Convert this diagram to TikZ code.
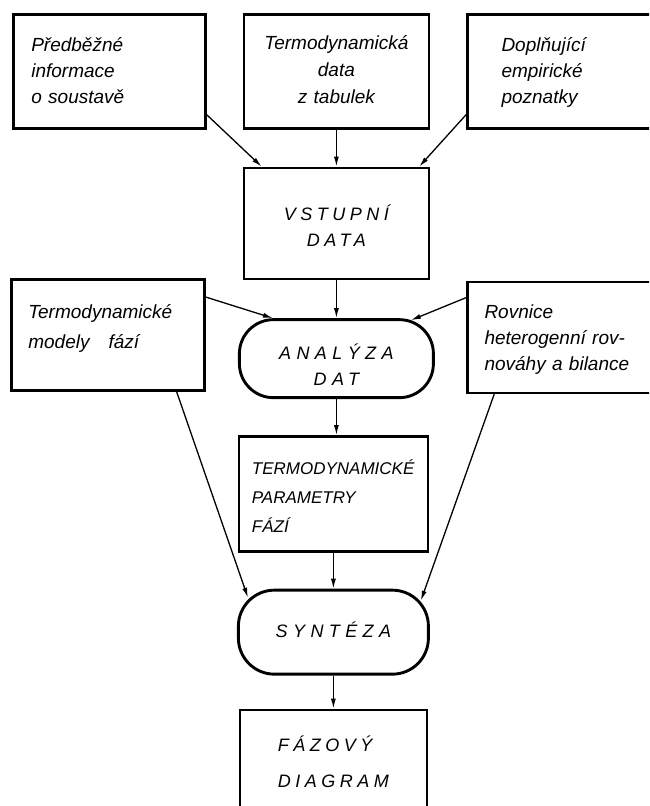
\documentclass[tikz,border=0pt]{standalone}
\usepackage{fontspec}
\setmainfont{Liberation Sans}
\newfontfamily\capsfont[LetterSpace=25]{Liberation Sans}
\newfontfamily\widecaps[LetterSpace=30]{Liberation Sans}
\usetikzlibrary{positioning, calc, arrows.meta}

\begin{document}
\begin{tikzpicture}[x=1pt, y=-1pt,
  box/.style 2 args={draw, line width=2.6pt, anchor=north west, inner ysep=0pt, text height=#1, text depth=#2, font=\itshape\fontsize{19}{26}\selectfont},
  caps/.style={font=\capsfont\itshape\fontsize{18}{26}\selectfont},
  oval/.style 2 args={box={#1}{#2}, rounded corners=34pt, line width=2.9pt, align=center, text width=184pt, inner xsep=5pt, font=\widecaps\itshape\fontsize{18}{26}\selectfont},
  flow/.style={-{Latex[length=10pt,width=5pt]}, line width=1.3pt}]

\path[use as bounding box, clip] (0,0) rectangle (649,806);

% BOXES

\node[box={37pt}{77pt}, text width=156pt, inner xsep=18pt, align=left] (pre) at (12,13)
{Předběžné\\informace\\o soustavě};

\node[box={35pt}{79pt}, text width=175pt, inner xsep=5pt, align=center, right=36pt of pre.north east, anchor=north west] (tab)
{Termodynamická\\[1pt]data\\[1pt]z tabulek};

\node[box={37pt}{77pt}, text width=142pt, inner xsep=34pt, align=left, right=36pt of tab.north east, anchor=north west] (emp)
{Doplňující\\empirické\\poznatky};

\node[box={53pt}{58pt}, caps, text width=175pt, inner xsep=5pt, align=center, below=37pt of tab.south west, anchor=north west] (vst)
{VSTUPNÍ\\DATA};

\node[box={39pt}{72pt}, text width=159pt, inner xsep=17pt, align=left] (mod) at (10,278)
{Termodynamické\\[4pt]modely\quad fází};

\node[box={37pt}{74pt}, text width=176pt, inner xsep=17pt, align=left, below=151pt of emp.south west, anchor=north west] (rov)
{Rovnice\\heterogenní rov-\\nováhy a bilance};

\node[oval={40pt}{38pt}, below=38pt of vst.south, anchor=north] (ana)
{ANALÝZA\\DAT};

\node[box={38pt}{77pt}, text width=163pt, inner xsep=13pt, align=left, font=\itshape\fontsize{17}{26}\selectfont, below=36pt of ana.south, anchor=north, xshift=-3pt] (par)
{TERMODYNAMICKÉ\\[3pt]PARAMETRY\\[3pt]FÁZÍ};

\node[oval={47pt}{37pt}, text width=180pt, rounded corners=36pt, below=36pt of par.south, anchor=north] (syn)
{SYNTÉZA};

\node[box={42pt}{103pt}, caps, text width=111pt, inner xsep=38pt, align=left, below=33pt of syn.south, anchor=north] (faz)
{FÁZOVÝ\\[10pt]DIAGRAM};

% ARROWS

\draw[flow] ($(pre.south east)+(0,-15)$) -- ($(vst.north west)+(19,0)$);
\draw[flow] (tab.south) -- (vst.north);
\draw[flow] ($(emp.south west)+(0,-15)$) -- ($(vst.north east)+(-11,0)$);
\draw[flow] (vst.south) -- (ana.north);
\draw[flow] ($(mod.north east)+(0,19)$) -- ($(ana.north west)+(35,0)$);
\draw[flow] ($(rov.north west)+(0,17)$) -- ($(ana.north east)+(-24,2)$);
\draw[flow] (ana.south) -- (ana.south |- par.north);
\draw[flow] (par.south) -- (par.south |- syn.north);
\draw[flow] ($(mod.south east)+(-29,0)$) -- ($(syn.north west)+(11,9)$);
\draw[flow] ($(rov.south west)+(28,0)$) -- ($(syn.north east)+(-9,12)$);
\draw[flow] (syn.south) -- (faz.north);

\end{tikzpicture}
\end{document}
